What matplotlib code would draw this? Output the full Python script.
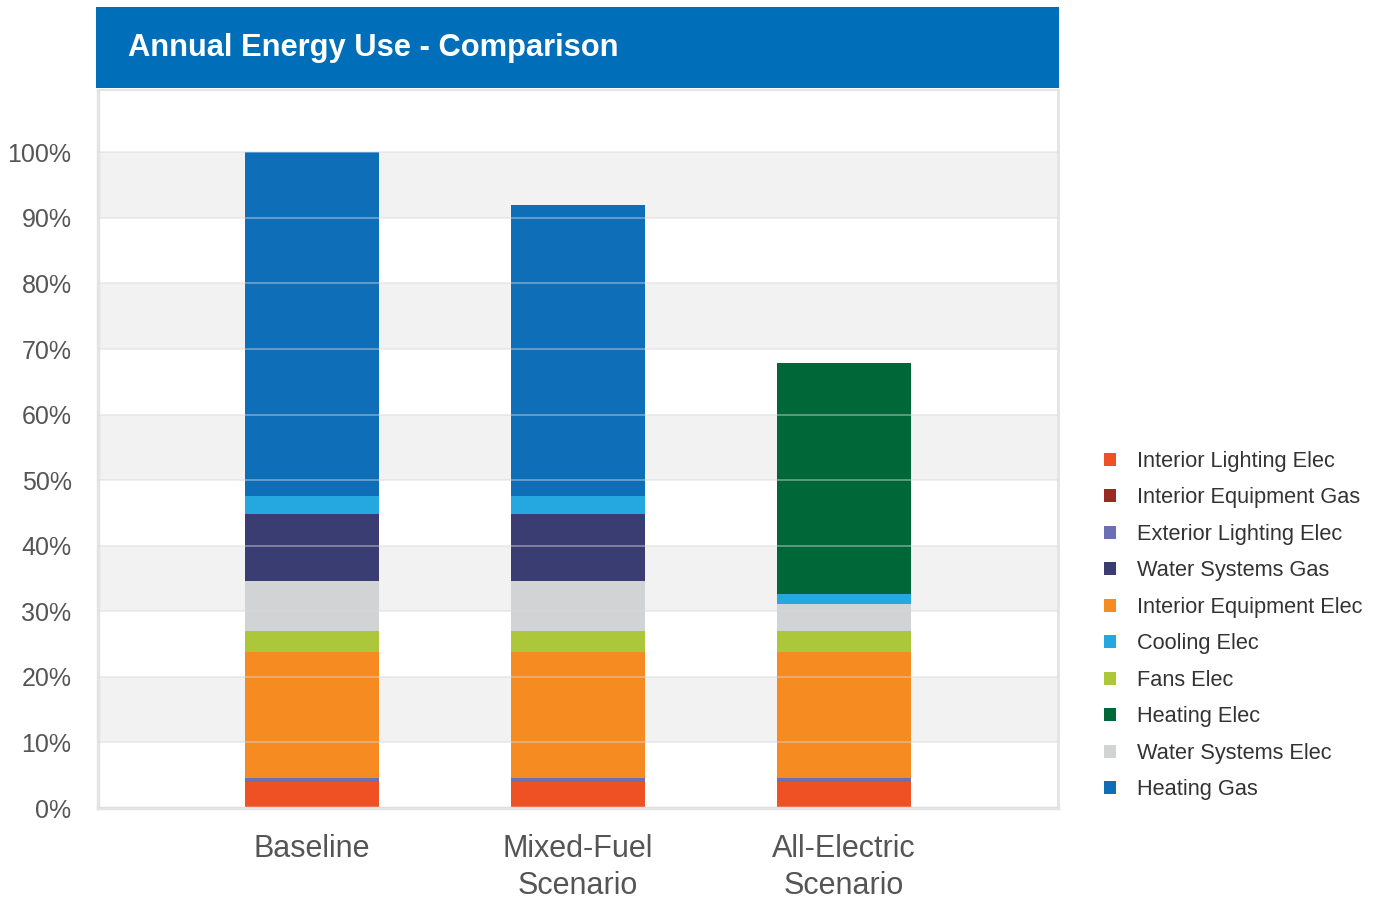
import matplotlib
matplotlib.use("Agg")
import matplotlib.pyplot as plt
from matplotlib.patches import Rectangle, Patch
import numpy as np

plt.rcParams['font.family'] = ['Liberation Sans', 'DejaVu Sans']

categories = ["Baseline", "Mixed-Fuel\nScenario", "All-Electric\nScenario"]

# Share of baseline annual energy use (%), per end use
interior_lighting_elec = [4.0, 4.0, 4.0]
interior_equipment_gas = [0.0, 0.0, 0.0]
exterior_lighting_elec = [0.5, 0.5, 0.5]
interior_equipment_elec = [19.3, 19.3, 19.3]
fans_elec = [3.2, 3.2, 3.2]
water_systems_elec = [7.6, 7.6, 4.1]
water_systems_gas = [10.2, 10.2, 0.0]
cooling_elec = [2.8, 2.8, 1.5]
heating_elec = [0.0, 0.0, 35.3]
heating_gas = [52.4, 44.3, 0.0]

# Stacking order (bottom to top)
stack = [
    ("Interior Lighting Elec", interior_lighting_elec, "#F05124"),
    ("Interior Equipment Gas", interior_equipment_gas, "#9B2B22"),
    ("Exterior Lighting Elec", exterior_lighting_elec, "#6C6FB5"),
    ("Interior Equipment Elec", interior_equipment_elec, "#F68B21"),
    ("Fans Elec", fans_elec, "#ACC73A"),
    ("Water Systems Elec", water_systems_elec, "#D2D3D5"),
    ("Water Systems Gas", water_systems_gas, "#3A3D72"),
    ("Cooling Elec", cooling_elec, "#25A8E0"),
    ("Heating Elec", heating_elec, "#006838"),
    ("Heating Gas", heating_gas, "#0E6EB8"),
]

legend_order = [
    "Interior Lighting Elec", "Interior Equipment Gas", "Exterior Lighting Elec",
    "Water Systems Gas", "Interior Equipment Elec", "Cooling Elec", "Fans Elec",
    "Heating Elec", "Water Systems Elec", "Heating Gas",
]

W, H = 1380, 898
fig = plt.figure(figsize=(W / 100, H / 100), dpi=100)
fig.patch.set_facecolor("white")

# Header band
fig.patches.append(Rectangle((96 / W, 1 - 88 / H), (1059 - 96) / W, 81 / H,
                             transform=fig.transFigure, facecolor="#006EB9",
                             edgecolor="none", zorder=0))
fig.text(128 / W, 1 - 48 / H, "Annual Energy Use - Comparison", color="white",
         fontsize=22.2, fontweight="bold", ha="left", va="center")

ax = fig.add_axes([98 / W, 1 - 808 / H, (1058 - 98) / W, (808 - 90) / H])
ax.set_facecolor("white")
ax.set_xlim(-0.805, 2.805)
ax.set_ylim(0, 109.5)

# Alternating horizontal bands
for lo in range(10, 100, 20):
    ax.axhspan(lo, lo + 10, facecolor="#F2F2F2", edgecolor="none", zorder=0)

x = np.arange(len(categories))
bottom = np.zeros(len(categories))
colors = {}
for name, vals, col in stack:
    vals = np.array(vals, dtype=float)
    ax.bar(x, vals, width=0.504, bottom=bottom, color=col, edgecolor="none",
           zorder=2)
    bottom += vals
    colors[name] = col

# Grid lines over the bars
for yv in range(0, 101, 10):
    ax.axhline(yv, color="#D8D8D8", linewidth=1.1, alpha=0.55, zorder=3)

ax.set_yticks(range(0, 101, 10))
ax.set_yticklabels([f"{v}%" for v in range(0, 101, 10)])
ax.set_xticks(x)
ax.set_xticklabels(categories, linespacing=1.27)
ax.tick_params(axis="y", length=0, pad=19, labelsize=18, labelcolor="#555555")
ax.tick_params(axis="x", length=0, pad=19, labelsize=22, labelcolor="#555555")

for side, lw in (("left", 2.5), ("bottom", 2.5), ("right", 2.0), ("top", 1.5)):
    ax.spines[side].set_color("#E4E4E4")
    ax.spines[side].set_linewidth(lw)

handles = [Patch(facecolor=colors[n], edgecolor="none", label=n) for n in legend_order]
fig.legend(handles=handles, loc="upper left",
           bbox_to_anchor=(1104 / W, 1 - 451 / H), frameon=False,
           fontsize=15.7, labelcolor="#333333", handlelength=0.55,
           handleheight=0.55, handletextpad=0.96, labelspacing=0.71,
           borderpad=0, borderaxespad=0)

fig.savefig("out.png", dpi=100, facecolor="white")
